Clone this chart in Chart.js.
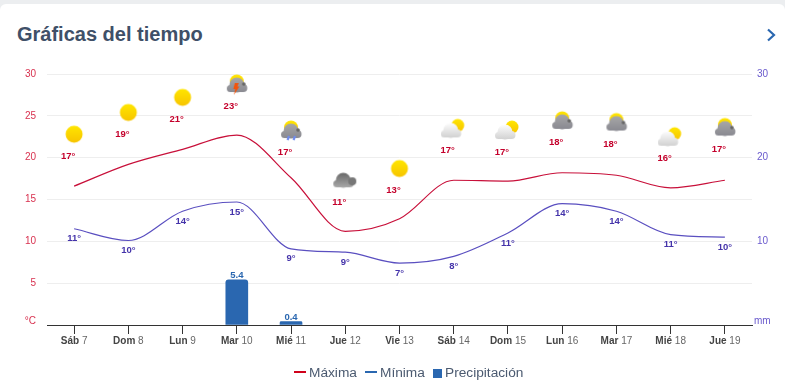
<!DOCTYPE html>
<html lang="es">
  <head>
    <meta charset="UTF-8" />
    <title>Gráficas del tiempo</title>
    <style>
      html, body { margin: 0; padding: 0; background: #eceef0; overflow: hidden; }
      #card { position: absolute; left: 0; top: 4px; width: 785px; height: 385px; background: #fff; border-radius: 6px 6px 0 0; }
      h2 { position: absolute; left: 17px; top: 18px; margin: 0; font: bold 20px/24px "Liberation Sans", Arial, sans-serif; color: #3f5068; }
      #next { position: absolute; left: 766px; top: 24px; }
      canvas { position: absolute; left: 0; top: 0; }
      #legend { position: absolute; top: 362px; left: 0; width: 785px; height: 20px; font: 13.7px/20px "Liberation Sans", Arial, sans-serif; color: #4b5a70; }
      #legend span { position: absolute; top: 0; white-space: nowrap; }
      #legend i { position: absolute; display: block; }
    </style>
  </head>
  <body>
    <div id="card">
      <h2>Gráficas del tiempo</h2>
      <svg id="next" width="11" height="14" viewBox="0 0 11 14"><path d="M2 1.5 L8 7 L2 12.5" fill="none" stroke="#2a67b0" stroke-width="2.2" /></svg>
    </div>
    <canvas id="myChart" width="785" height="389"></canvas>
    <div id="legend">
      <i style="left:294px;top:9px;width:12px;height:2px;background:#d0021b"></i><span style="left:309px;top:1px">Máxima</span>
      <i style="left:365px;top:9px;width:12px;height:2px;background:#2a67b0"></i><span style="left:380px;top:1px">Mínima</span>
      <i style="left:433px;top:7px;width:9px;height:9px;background:#2a67b0"></i><span style="left:445px;top:1px">Precipitación</span>
    </div>

    <script src="https://cdn.jsdelivr.net/npm/chart.js"></script>
    <script>
      const dayNames = ["Sáb", "Dom", "Lun", "Mar", "Mié", "Jue", "Vie", "Sáb", "Dom", "Lun", "Mar", "Mié", "Jue"];
      const dayNumbers = [7, 8, 9, 10, 11, 12, 13, 14, 15, 16, 17, 18, 19];
      const maxValues = [16.6, 19.2, 21, 22.7, 17.6, 11.2, 12.7, 17.3, 17.2, 18.2, 17.9, 16.4, 17.3];
      const minValues = [11.5, 10.1, 13.6, 14.7, 9.1, 8.7, 7.4, 8.2, 11, 14.5, 13.6, 10.8, 10.5];
      const precipitation = [0, 0, 0, 5.4, 0.4, 0, 0, 0, 0, 0, 0, 0, 0];
      const maxLabels = [17, 19, 21, 23, 17, 11, 13, 17, 17, 18, 18, 16, 17];
      const minLabels = [11, 10, 14, 15, 9, 9, 7, 8, 11, 14, 14, 11, 10];
      const iconLevels = [22.8, 25.4, 27.2, 28.8, 23.3, 17.3, 18.7, 23.5, 23.3, 24.4, 24.2, 22.5, 23.6];
      const iconKinds = ["sun", "sun", "sun", "storm", "rain", "cloud", "sun", "partly", "partly", "overcast", "overcast", "partly", "overcast"];
      const leftTicks = [5, 10, 15, 20, 25, 30];
      const rightTicks = [10, 20, 30];

      const FONT = '"Liberation Sans", Arial, sans-serif';

      function drawSun(c, x, y, r) {
        const g = c.createLinearGradient(0, y - r, 0, y + r);
        g.addColorStop(0, "#ffe600");
        g.addColorStop(1, "#f7c400");
        c.fillStyle = g;
        c.beginPath();
        c.arc(x, y, r, 0, Math.PI * 2);
        c.fill();
      }

      // dome shaped cloud, flat bottom at y + 8
      function drawCloud(c, x, y, top, bottom) {
        const g = c.createLinearGradient(0, y - 7, 0, y + 8);
        g.addColorStop(0, top);
        g.addColorStop(1, bottom);
        c.fillStyle = g;
        c.beginPath();
        c.arc(x, y + 1, 7.5, 0, Math.PI * 2);
        c.fill();
        c.beginPath();
        c.arc(x - 6.5, y + 4.5, 3.5, 0, Math.PI * 2);
        c.arc(x + 6.5, y + 4, 4, 0, Math.PI * 2);
        c.fill();
        c.fillRect(x - 6.5, y + 3, 13, 5);
      }

      function makeIcon(kind) {
        const cv = document.createElement("canvas");
        cv.width = 26;
        cv.height = 26;
        const c = cv.getContext("2d");
        if (kind === "sun") {
          drawSun(c, 13, 13, 8.5);
        } else if (kind === "cloud") {
          drawCloud(c, 11, 12, "#666666", "#a8a8a8");
          c.fillStyle = "#777";
          c.beginPath();
          c.arc(20, 14, 4, 0, Math.PI * 2);
          c.fill();
        } else if (kind === "partly") {
          drawSun(c, 17, 10, 6.5);
          drawCloud(c, 10, 14, "#ffffff", "#d2d2d2");
        } else {
          drawSun(c, 13, 10.5, 7);
          drawCloud(c, 13, 13, "#a8a8a8", "#8a8a92");
          c.fillStyle = "#666";
          c.beginPath();
          c.arc(20, 13, 1.8, 0, Math.PI * 2);
          c.fill();
          if (kind === "storm") {
            c.fillStyle = "#f4540a";
            c.beginPath();
            c.moveTo(11, 12);
            c.lineTo(15, 12);
            c.lineTo(13.5, 15.5);
            c.lineTo(15.5, 15.5);
            c.lineTo(10, 24);
            c.lineTo(11.5, 18);
            c.lineTo(9.5, 18);
            c.fill();
          }
          if (kind === "rain") {
            c.strokeStyle = "#6f8cf0";
            c.lineWidth = 2.2;
            c.beginPath();
            c.moveTo(11, 19);
            c.lineTo(9.5, 23);
            c.moveTo(17, 19);
            c.lineTo(15.5, 23);
            c.stroke();
          }
        }
        return cv;
      }

      const chartLabels = dayNames.map((d, i) => d + " " + dayNumbers[i]);

      // Texts the ticks and the data labels can't do alone (mixed weight, offsets)
      const extraText = {
        id: "extraText",
        afterDraw(chart) {
          const c = chart.ctx;
          const x = chart.scales.x;
          const y = chart.scales.y;
          c.save();
          c.textBaseline = "middle";

          // day labels, bold name + normal number
          dayNames.forEach((name, i) => {
            const px = x.getPixelForValue(i);
            const num = " " + dayNumbers[i];
            c.font = "bold 10px " + FONT;
            const w1 = c.measureText(name).width;
            c.font = "10px " + FONT;
            const w2 = c.measureText(num).width;
            const start = px - (w1 + w2) / 2;
            c.textAlign = "left";
            c.font = "bold 10px " + FONT;
            c.fillStyle = "#444";
            c.fillText(name, start, 341);
            c.font = "10px " + FONT;
            c.fillStyle = "#666";
            c.fillText(num, start + w1, 341);
          });

          // temperature labels
          c.textAlign = "center";
          c.font = "bold 9.5px " + FONT;
          c.fillStyle = "#c4002b";
          maxLabels.forEach((t, i) => {
            c.fillText(t + "°", x.getPixelForValue(i) - 6, y.getPixelForValue(iconLevels[i]) + 22);
          });
          c.fillStyle = "#4433aa";
          minLabels.forEach((t, i) => {
            c.fillText(t + "°", x.getPixelForValue(i), y.getPixelForValue(minValues[i]) + 10);
          });

          // rain labels
          c.fillStyle = "#2a67b0";
          precipitation.forEach((v, i) => {
            if (v > 0) c.fillText(v.toFixed(1), x.getPixelForValue(i), y.getPixelForValue(v) - 4.5);
          });

          // units
          c.font = "10px " + FONT;
          c.textAlign = "right";
          c.fillStyle = "#d8314f";
          c.fillText("°C", 36, 321);
          c.textAlign = "left";
          c.fillStyle = "#6a5acd";
          c.fillText("mm", 754, 321);
          c.restore();
        },
      };

      new Chart(document.getElementById("myChart").getContext("2d"), {
        type: "bar",
        data: {
          labels: chartLabels,
          datasets: [
            {
              type: "line",
              label: "Iconos",
              data: iconLevels,
              showLine: false,
              pointStyle: iconKinds.map(makeIcon),
              pointRadius: 10,
              yAxisID: "y",
            },
            {
              type: "line",
              label: "Máxima",
              data: maxValues,
              borderColor: "#c8103a",
              borderWidth: 1.2,
              pointRadius: 0,
              cubicInterpolationMode: "monotone",
              yAxisID: "y",
            },
            {
              type: "line",
              label: "Mínima",
              data: minValues,
              borderColor: "#5a4fc0",
              borderWidth: 1.2,
              pointRadius: 0,
              cubicInterpolationMode: "monotone",
              yAxisID: "y",
            },
            {
              label: "Precipitación",
              data: precipitation.map((v) => (v > 0 ? v : null)),
              backgroundColor: "#2a67b0",
              barThickness: 22,
              borderRadius: { topLeft: 3, topRight: 3 },
              borderSkipped: "bottom",
              yAxisID: "y",
            },
          ],
        },
        options: {
          responsive: false,
          animation: false,
          layout: { padding: { top: 74, left: 0, right: 0, bottom: 32 } },
          plugins: {
            tooltip: { enabled: false },
            legend: { display: false },
          },
          scales: {
            x: {
              grid: { drawOnChartArea: false, drawTicks: true, offset: false, tickLength: 9, tickColor: "#333" },
              border: { color: "#333", width: 1 },
              ticks: { color: "transparent", font: { family: FONT, size: 10 }, maxRotation: 0, autoSkip: false },
              afterFit(s) { s.height = 32; },
            },
            y: {
              min: 0,
              max: 30,
              afterBuildTicks(s) { s.ticks = [0].concat(leftTicks).map((v) => ({ value: v })); },
              grid: { color: "#eeeeee", drawTicks: false },
              border: { display: false },
              ticks: {
                color: "#d8314f",
                font: { family: FONT, size: 10 },
                padding: 11,
                callback: (v) => (v === 0 ? "" : v),
              },
              afterFit(s) { s.width = 47; },
            },
            y2: {
              position: "right",
              min: 0,
              max: 30,
              afterBuildTicks(s) { s.ticks = rightTicks.map((v) => ({ value: v })); },
              grid: { drawOnChartArea: false, drawTicks: false },
              border: { display: false },
              ticks: {
                color: "#6a5acd",
                font: { family: FONT, size: 10 },
                padding: 5,
              },
              afterFit(s) { s.width = 33; },
            },
          },
        },
        plugins: [extraText],
      });
    </script>
  </body>
</html>
